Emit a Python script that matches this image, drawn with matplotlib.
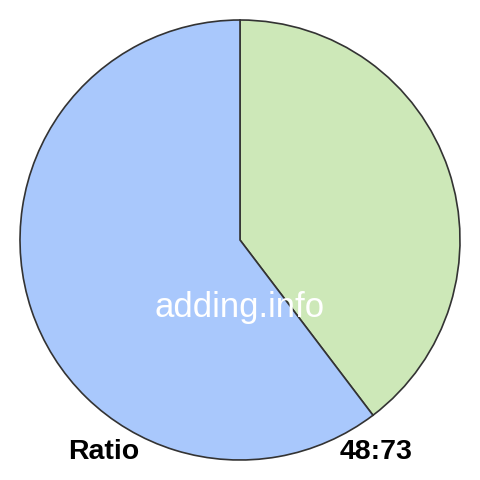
import matplotlib.pyplot as plt

# Data
labels = ['48', '73']
values = [48, 73]
colors = ['#cde8b8', '#a9c8fc']
ratio_text = '48:73'

plt.rcParams['font.family'] = ['Liberation Sans', 'DejaVu Sans']

fig = plt.figure(figsize=(4.8, 4.8), dpi=100)
ax = fig.add_axes([0, 0, 1, 1])

ax.pie(values, colors=colors, startangle=90, counterclock=False,
       center=(240, 240), radius=220, frame=True,
       wedgeprops=dict(edgecolor='#333333', linewidth=1.2))
ax.set_xlim(0, 480)
ax.set_ylim(0, 480)
ax.set_aspect('equal')
ax.axis('off')

ax.text(240, 172, 'adding.info', color='white', fontsize=25,
        ha='center', va='center')
ax.text(104, 28, 'Ratio', fontsize=20.5, fontweight='bold',
        ha='center', va='center')
ax.text(376, 28, ratio_text, fontsize=20.5, fontweight='bold',
        ha='center', va='center')

fig.savefig('out.png', dpi=100)
